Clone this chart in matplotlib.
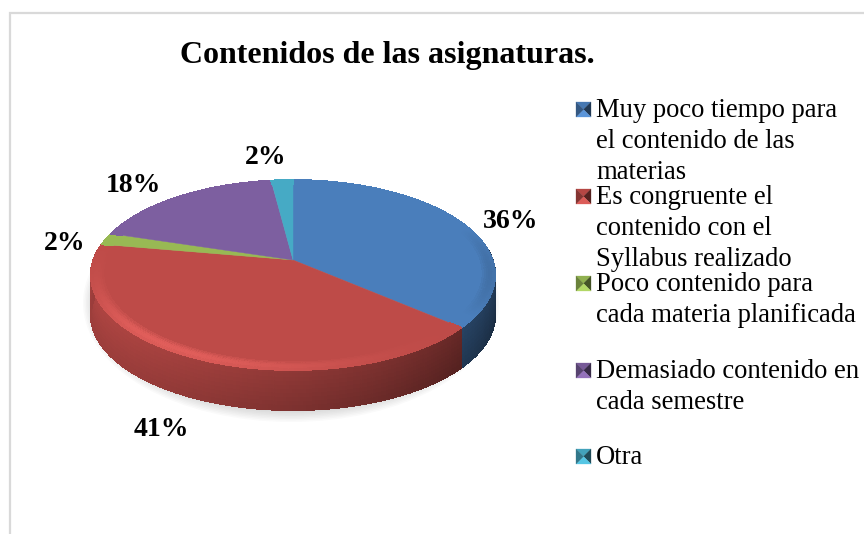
import numpy as np
import matplotlib
matplotlib.use('Agg')
import matplotlib.pyplot as plt
from matplotlib.collections import PolyCollection
from matplotlib.colors import to_rgb
from matplotlib.patches import Polygon, Ellipse

plt.rcParams['font.family'] = ['Liberation Serif', 'DejaVu Serif']

title = 'Contenidos de las asignaturas.'
categories = ['Muy poco tiempo para\nel contenido de las\nmaterias',
              'Es congruente el\ncontenido con el\nSyllabus realizado',
              'Poco contenido para\ncada materia planificada',
              'Demasiado contenido en\ncada semestre',
              'Otra']
values = [36, 41, 2, 18, 2]
colors = ['#4a7ebb', '#be4b48', '#98b954', '#7d5fa0', '#46aac5']

# where things sit, in pixels of the picture
cx, cy = 293, 260
A, B, C = 199.5, 92.6, 0.158
depth = 40
label_pos = [(511, 222), (161, 429), (65, 244), (133, 185), (266, 158)]
legend_x = 576
legend_y = [102, 189, 276, 363, 449]


def project(t, r=1.0):
    # t clockwise from the top, circle seen in perspective
    x = r * np.sin(t)
    y = r * np.cos(t)
    w = 1 + C * y
    return cx + A * x / w, cy - B * y / w


def mix(col, f):
    # f > 0 brighter, f < 0 towards black
    c = np.array(to_rgb(col))
    if f >= 0:
        return tuple(np.clip(c * (1 + f) + 0.25 * f, 0, 1))
    return tuple(c * (1 + f))


fig = plt.figure(figsize=(8.64, 5.34), dpi=100)
ax = fig.add_axes([0, 0, 1, 1])
ax.set_xlim(0, 864)
ax.set_ylim(534, 0)
ax.axis('off')

# chart frame, only left and top show
ax.plot([10, 10, 864], [534, 13, 13], color='#d9d9d9', lw=1.6, solid_joinstyle='miter')

# soft shadow under the pie
for i in range(14):
    ax.add_patch(Ellipse((cx - 2, 303), 2 * (208 - i * 1.5), 2 * (119 - i * 1.5),
                         color='#808080', alpha=0.04, lw=0, zorder=1))

fracs = np.array(values, dtype=float) / sum(values)
edges = np.concatenate([[0], np.cumsum(fracs)]) * 2 * np.pi

# side wall
polys, cols = [], []
for i in range(len(values)):
    ts = np.linspace(edges[i], edges[i + 1], max(4, int((edges[i + 1] - edges[i]) * 80)))
    for t0, t1 in zip(ts[:-1], ts[1:]):
        tm = (t0 + t1) / 2
        if np.cos(tm) > 0.15:
            continue
        x0, y0 = project(t0)
        x1, y1 = project(t1)
        light = -0.40 + 0.26 * np.cos(tm - np.radians(250))
        for k in range(10):
            a = k / 10
            b = (k + 1) / 10
            polys.append([(x0, y0 + a * depth), (x1, y1 + a * depth),
                          (x1, y1 + b * depth), (x0, y0 + b * depth)])
            cols.append(mix(colors[i], light + 0.06 * (1 - a) - 0.04 * a))
ax.add_collection(PolyCollection(polys, facecolors=cols, edgecolors=cols, lw=0.8,
                                 antialiaseds=False, zorder=2))

# top face with a bevel along the rim, strongest towards the front
polys, cols = [], []
rings = np.linspace(0.94, 1.0, 7)
for i in range(len(values)):
    ts = np.linspace(edges[i], edges[i + 1], max(4, int((edges[i + 1] - edges[i]) * 80)))
    xs, ys = project(ts, 0.94)
    pts = [(cx, cy)] + list(zip(xs, ys))
    ax.add_patch(Polygon(pts, closed=True, fc=colors[i], ec=colors[i], lw=0.3, zorder=3))
    for t0, t1 in zip(ts[:-1], ts[1:]):
        tm = (t0 + t1) / 2
        s = np.cos(tm - np.radians(215))
        front = np.clip(0.35 - np.cos(tm), 0, 1)
        for n in range(len(rings) - 1):
            r0, r1 = rings[n], rings[n + 1]
            x00, y00 = project(t0, r0)
            x10, y10 = project(t1, r0)
            x11, y11 = project(t1, r1)
            x01, y01 = project(t0, r1)
            polys.append([(x00, y00), (x10, y10), (x11, y11), (x01, y01)])
            amp = np.sin(np.pi * (n + 1) / (len(rings) - 1) * 0.7) * front
            f = 0.14 * s ** 3 * amp if s > 0 else 0.5 * s * amp
            cols.append(mix(colors[i], f))
ax.add_collection(PolyCollection(polys, facecolors=cols, edgecolors=cols, lw=0.6,
                                 antialiaseds=False, zorder=4))

# percent labels
for v, (lx, ly) in zip(values, label_pos):
    ax.text(lx, ly, f'{v}%', ha='center', va='center', fontsize=20, fontweight='bold', zorder=6)

ax.text(387, 56, title, ha='center', va='center', fontsize=23, fontweight='bold', zorder=6)

# legend, bevelled squares and one text per line
s = 15
for name, col, ly in zip(categories, colors, legend_y):
    mx, my = legend_x + s / 2, ly + s / 2
    corners = [(legend_x, ly), (legend_x + s, ly), (legend_x + s, ly + s), (legend_x, ly + s)]
    shades = [-0.05, -0.55, 0.12, -0.3]
    for j, f in enumerate(shades):
        ax.add_patch(Polygon([corners[j], corners[(j + 1) % 4], (mx, my)], closed=True,
                             fc=mix(col, f), ec=mix(col, f), lw=0.2, zorder=5))
    for j, line in enumerate(name.split('\n')):
        ax.text(596, ly + 15 + j * 30.8, line, ha='left', va='baseline', fontsize=19.2, color='black', zorder=6)

fig.savefig('out.png', dpi=100)
